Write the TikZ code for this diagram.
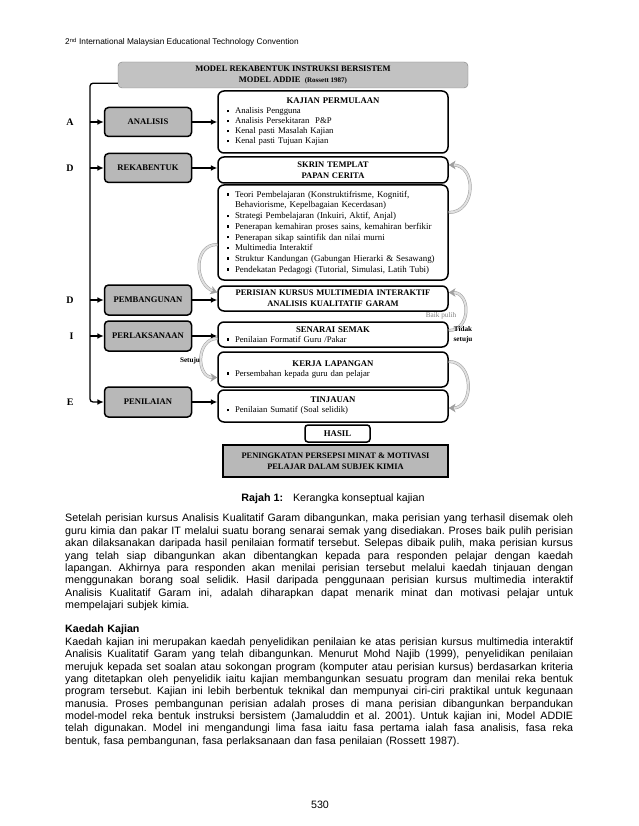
\documentclass[tikz,border=0pt]{standalone}
\usepackage{fontspec}
\setmainfont{Liberation Serif}
\setsansfont{Liberation Sans}
\usepackage{xcolor}
\usepackage{tikz}
\usetikzlibrary{arrows.meta, positioning}
\setlength{\parindent}{0pt}
\definecolor{boxgray}{gray}{0.72}
\definecolor{titlegray}{gray}{0.76}
\newcommand{\bul}{\makebox[8pt][l]{\rule[1.6pt]{2.4pt}{2.4pt}}}
\newcommand{\jline}[1]{\leavevmode\hbox to 508pt{\spaceskip=0.278em plus 1fil\relax\xspaceskip=\spaceskip #1}\\}
\tikzset{
  titlebox/.style={rectangle, rounded corners=4pt, draw=gray, fill=titlegray, align=center, minimum width=350pt, minimum height=26pt, inner sep=0pt, font=\bfseries\fontsize{8.5}{11}\selectfont},
  phasebox/.style={rectangle, rounded corners=4pt, draw=black, line width=1.5pt, fill=boxgray, minimum width=87pt, minimum height=29pt, inner sep=0pt, font=\bfseries\fontsize{8.6}{10}\selectfont},
  infobox/.style={rectangle, rounded corners=6pt, draw=black, line width=1.5pt, fill=white, minimum width=230pt, text width=216pt, inner xsep=7pt, inner ysep=1pt, font=\fontsize{8.7}{10}\selectfont},
  outbox/.style={rectangle, rounded corners=3pt, draw=black, line width=1.5pt, fill=white, minimum width=65pt, minimum height=17pt, inner sep=0pt, font=\bfseries\fontsize{8.8}{10}\selectfont},
  resultbox/.style={rectangle, draw=black, line width=1.5pt, fill=boxgray, align=center, minimum width=225pt, minimum height=32pt, inner sep=0pt, font=\bfseries\fontsize{8.4}{11}\selectfont},
  phaselbl/.style={inner sep=0pt, font=\bfseries\fontsize{10}{11}\selectfont},
  looplbl/.style={inner sep=0pt, align=center, font=\bfseries\fontsize{7.2}{10.5}\selectfont},
  flowarr/.style={line width=1.3pt, -{Latex[length=2.2mm, width=2mm]}},
  loopar/.style={draw=gray!75, double=gray!25, double distance=2pt, line width=0.5pt, -{Stealth[length=2.4mm, width=3mm]}},
  pagetext/.style={inner sep=0pt, font=\sffamily\fontsize{10.7}{12.35}\selectfont},
}
\begin{document}
\begin{tikzpicture}[x=1pt, y=-1pt]
\fill[white] (0,0) rectangle (638,826);
\useasboundingbox (0,0) rectangle (638,826);

\node[pagetext, font=\sffamily\fontsize{8.3}{10}\selectfont, anchor=base west] (hdr) at (65,45) {2\textsuperscript{nd} International Malaysian Educational Technology Convention};

\node[titlebox] (title) at (293,75) {MODEL REKABENTUK INSTRUKSI BERSISTEM\\MODEL ADDIE\ \ {\fontsize{7}{9}\selectfont(Rossett 1987)}};

\node[infobox, minimum height=62pt] (kajian) at (333,122) {\centering\textbf{KAJIAN PERMULAAN}\par\raggedright
\hspace*{2pt}\bul Analisis Pengguna\\
\hspace*{2pt}\bul Analisis Persekitaran\ \ P\&P\\
\hspace*{2pt}\bul Kenal pasti Masalah Kajian\\
\hspace*{2pt}\bul Kenal pasti Tujuan Kajian};
\node[infobox, minimum height=26pt, align=center, font=\bfseries\fontsize{8.5}{11}\selectfont] (skrin) at (333,170) {SKRIN TEMPLAT\\PAPAN CERITA};
\node[infobox, minimum height=95pt, font=\fontsize{8.9}{10.7}\selectfont] (teori) at (333,232.5) {\raggedright
\hspace*{2pt}\bul Teori Pembelajaran (Konstruktifrisme, Kognitif,\\
\hspace*{10pt}Behaviorisme, Kepelbagaian Kecerdasan)\\
\hspace*{2pt}\bul Strategi Pembelajaran (Inkuiri, Aktif, Anjal)\\
\hspace*{2pt}\bul Penerapan kemahiran proses sains, kemahiran berfikir\\
\hspace*{2pt}\bul Penerapan sikap saintifik dan nilai murni\\
\hspace*{2pt}\bul Multimedia Interaktif\\
\hspace*{2pt}\bul \mbox{Struktur Kandungan (Gabungan Hierarki \& Sesawang)}\\
\hspace*{2pt}\bul Pendekatan Pedagogi (Tutorial, Simulasi, Latih Tubi)};
\node[infobox, minimum height=25pt, align=center, font=\bfseries\fontsize{8.5}{11}\selectfont] (perisian) at (333,298.5) {PERISIAN KURSUS MULTIMEDIA INTERAKTIF\\ANALISIS KUALITATIF GARAM};
\node[infobox, minimum height=25pt] (senarai) at (333,334.5) {\centering\textbf{SENARAI SEMAK}\par\raggedright
\hspace*{2pt}\bul Penilaian Formatif Guru /Pakar};
\node[infobox, minimum height=35pt] (kerja) at (333,369.5) {\centering\textbf{KERJA LAPANGAN}\par\raggedright
\hspace*{2pt}\bul Persembahan kepada guru dan pelajar};
\node[infobox, minimum height=32pt] (tinjauan) at (333,406) {\centering\textbf{TINJAUAN}\par\raggedright
\hspace*{2pt}\bul Penilaian Sumatif (Soal selidik)};
\node[outbox] (hasil) at (337.5,433.5) {HASIL};
\node[resultbox] (minat) at (335.5,461) {PENINGKATAN PERSEPSI MINAT \& MOTIVASI\\PELAJAR DALAM SUBJEK KIMIA};

\node[phasebox, left=25pt of kajian] (analisis) {ANALISIS};
\node[phasebox, left=25pt of skrin, yshift=2pt] (rekabentuk) {REKABENTUK};
\node[phasebox, left=25pt of perisian, minimum height=30pt, yshift=-1.5pt] (pembangunan) {PEMBANGUNAN};
\node[phasebox, left=25pt of senarai, minimum height=30pt, yshift=-1.5pt] (perlaksanaan) {PERLAKSANAAN};
\node[phasebox, left=25pt of tinjauan, minimum height=30pt, yshift=4pt] (penilaian) {PENILAIAN};

\node[phaselbl, left=30pt of analisis] (la) {A};
\node[phaselbl, left=30pt of rekabentuk] (ld) {D};
\node[phaselbl, left=30pt of pembangunan] (ld2) {D};
\node[phaselbl, left=30pt of perlaksanaan] (li) {I};
\node[phaselbl, left=30pt of penilaian] (le) {E};

\coordinate (spx) at (90,0);
\draw[flowarr, rounded corners=3pt] ([yshift=5pt]title.south west) -| (spx |- penilaian.west) -- (penilaian.west);
\foreach \b in {analisis, rekabentuk, pembangunan, perlaksanaan}
  \draw[flowarr] (spx |- \b.west) -- (\b.west);
\foreach \a/\b in {analisis/kajian, rekabentuk/skrin, pembangunan/perisian, perlaksanaan/senarai, penilaian/tinjauan}
  \draw[flowarr] (\a) -- (\a -| \b.west);

\draw[loopar] ([yshift=20pt]teori.east) to[out=0, in=0, looseness=1.5] ([yshift=5pt]skrin.east);
\draw[loopar] ([yshift=-12pt]teori.west) to[out=180, in=160, looseness=1.3] ([yshift=6pt]perisian.west);
\draw[loopar] ([yshift=4pt]senarai.east) to[out=0, in=0, looseness=1.5] ([yshift=6pt]perisian.east);
\draw[loopar] ([yshift=-4pt]senarai.west) to[out=180, in=180, looseness=1.4] ([yshift=-8pt]kerja.west);
\draw[loopar] ([yshift=8pt]kerja.east) to[out=0, in=0, looseness=1.4] ([yshift=-2pt]tinjauan.east);

\node[looplbl, font=\fontsize{7.2}{9}\selectfont, text=gray] (baik) at (441,316) {Baik pulih};
\node[looplbl] (tidak) at (463,335) {Tidak\\setuju};
\node[looplbl] (setuju) at (190,361) {Setuju};

\node[pagetext, anchor=base] (cap) at (333,501) {\textbf{Rajah 1:}\hspace{10pt}Kerangka konseptual kajian};

\node[pagetext, anchor=north west, text width=508pt] (para1) at (65,514) {%
\jline{Setelah perisian kursus Analisis Kualitatif Garam dibangunkan, maka perisian yang terhasil disemak oleh}
\jline{guru kimia dan pakar IT melalui suatu borang senarai semak yang disediakan. Proses baik pulih perisian}
\jline{akan dilaksanakan daripada hasil penilaian formatif tersebut. Selepas dibaik pulih, maka perisian kursus}
\jline{yang telah siap dibangunkan akan dibentangkan kepada para responden pelajar dengan kaedah}
\jline{lapangan. Akhirnya para responden akan menilai perisian tersebut melalui kaedah tinjauan dengan}
\jline{menggunakan borang soal selidik. Hasil daripada penggunaan perisian kursus multimedia interaktif}
\jline{Analisis Kualitatif Garam ini, adalah diharapkan dapat menarik minat dan motivasi pelajar untuk}
mempelajari subjek kimia.};

\node[pagetext, anchor=north west, text width=508pt] (para2) at (65,625) {%
\textbf{Kaedah Kajian}\\
\jline{Kaedah kajian ini merupakan kaedah penyelidikan penilaian ke atas perisian kursus multimedia interaktif}
\jline{Analisis Kualitatif Garam yang telah dibangunkan. Menurut Mohd Najib (1999), penyelidikan penilaian}
\jline{merujuk kepada set soalan atau sokongan program (komputer atau perisian kursus) berdasarkan kriteria}
\jline{yang ditetapkan oleh penyelidik iaitu kajian membangunkan sesuatu program dan menilai reka bentuk}
\jline{program tersebut. Kajian ini lebih berbentuk teknikal dan mempunyai ciri-ciri praktikal untuk kegunaan}
\jline{manusia. Proses pembangunan perisian adalah proses di mana perisian dibangunkan berpandukan}
\jline{model-model reka bentuk instruksi bersistem (Jamaluddin et al. 2001). Untuk kajian ini, Model ADDIE}
\jline{telah digunakan. Model ini mengandungi lima fasa iaitu fasa pertama ialah fasa analisis, fasa reka}
bentuk, fasa pembangunan, fasa perlaksanaan dan fasa penilaian (Rossett 1987).};

\node[pagetext, anchor=base] (pgno) at (320,808) {530};
\end{tikzpicture}
\end{document}
